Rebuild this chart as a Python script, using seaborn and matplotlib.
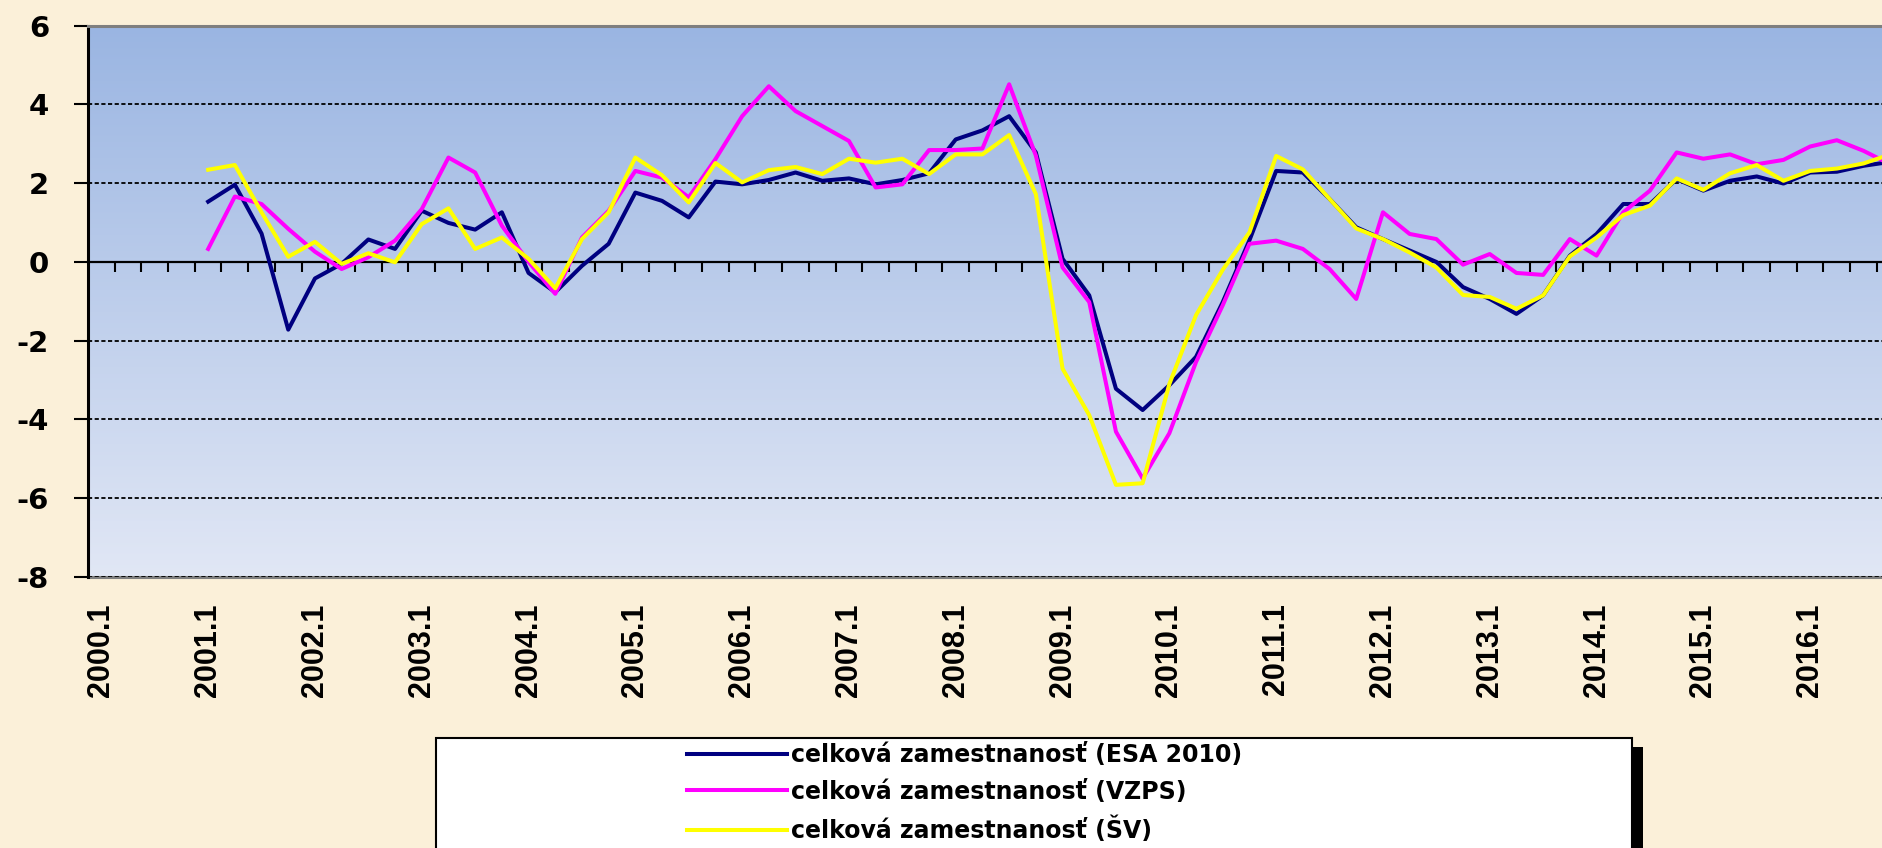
import numpy as np
import pandas as pd
import matplotlib
matplotlib.use('Agg')
import matplotlib.pyplot as plt
from matplotlib.patches import Rectangle
import seaborn as sns

# quarters 2000.1 .. 2016.4 (category axis)
years = list(range(2000, 2017))
quarters = [f'{y}.{q}' for y in years for q in range(1, 5)]
start = '2001.1'   # all three series begin here

# y/y growth of employment, %
esa2010 = [1.53, 1.96, 0.72, -1.72, -0.42, -0.05, 0.57, 0.33,
           1.30, 0.99, 0.82, 1.26, -0.28, -0.77, -0.10, 0.46,
           1.76, 1.55, 1.13, 2.04, 1.97, 2.08, 2.27, 2.06,
           2.12, 1.97, 2.08, 2.25, 3.11, 3.34, 3.70, 2.78,
           0.08, -0.85, -3.22, -3.76, -3.13, -2.41, -1.02, 0.55,
           2.31, 2.27, 1.60, 0.88, 0.58, 0.29, 0.00, -0.64,
           -0.94, -1.32, -0.85, 0.16, 0.71, 1.47, 1.47, 2.10,
           1.81, 2.06, 2.17, 1.99, 2.27, 2.29, 2.44, 2.54]
vzps = [0.33, 1.66, 1.47, 0.84, 0.26, -0.18, 0.12, 0.54,
        1.34, 2.65, 2.27, 0.92, 0.00, -0.81, 0.62, 1.30,
        2.31, 2.14, 1.64, 2.61, 3.70, 4.46, 3.83, 3.45,
        3.07, 1.89, 1.97, 2.84, 2.84, 2.88, 4.51, 2.70,
        -0.14, -1.02, -4.31, -5.50, -4.35, -2.54, -1.10, 0.46,
        0.54, 0.33, -0.18, -0.94, 1.26, 0.71, 0.58, -0.07,
        0.20, -0.28, -0.33, 0.58, 0.16, 1.26, 1.81, 2.78,
        2.62, 2.73, 2.48, 2.59, 2.93, 3.09, 2.82, 2.48]
sv = [2.34, 2.46, 1.26, 0.13, 0.51, -0.05, 0.22, -0.01,
      0.96, 1.36, 0.33, 0.62, 0.08, -0.67, 0.58, 1.26,
      2.65, 2.20, 1.51, 2.51, 2.02, 2.33, 2.41, 2.23,
      2.62, 2.52, 2.62, 2.23, 2.73, 2.73, 3.22, 1.72,
      -2.71, -3.89, -5.66, -5.62, -3.10, -1.35, -0.20, 0.75,
      2.69, 2.35, 1.60, 0.85, 0.58, 0.24, -0.14, -0.84,
      -0.89, -1.19, -0.85, 0.14, 0.62, 1.19, 1.43, 2.12,
      1.83, 2.25, 2.46, 2.06, 2.31, 2.37, 2.50, 2.73]

labels = ['celková zamestnanosť (ESA 2010)',
          'celková zamestnanosť (VZPS)',
          'celková zamestnanosť (ŠV)']
colors = ['#000080', '#FF00FF', '#FFFF00']

# long table for seaborn
i0 = quarters.index(start)
frames = []
for lab, vals in zip(labels, [esa2010, vzps, sv]):
    frames.append(pd.DataFrame({'pos': range(i0, i0 + len(vals)),
                                'value': vals, 'serie': lab}))
df = pd.concat(frames, ignore_index=True)

plt.rcParams['axes.unicode_minus'] = False
plt.rcParams['lines.scale_dashes'] = False

W, H = 1883, 848
fig = plt.figure(figsize=(W / 100, H / 100), dpi=100)
fig.patch.set_facecolor('#FBF0D9')

# plot area in pixels
left, top, bottom = 88, 25.6, 577
rect = [left / W, (H - bottom) / H, 1 - left / W, (bottom - top) / H]
cat_w = 26.7

# gradient background of the plot area
bg = fig.add_axes(rect, zorder=0)
c_top = np.array([154, 181, 226]) / 255
c_bot = np.array([225, 231, 245]) / 255
t = np.linspace(0, 1, 256)[:, None]
grad = (c_top * (1 - t) + c_bot * t)[:, None, :]
bg.imshow(grad, aspect='auto', extent=[0, 1, 0, 1])
bg.axis('off')

ax = fig.add_axes(rect, zorder=1)
ax.patch.set_alpha(0)

sns.lineplot(data=df, x='pos', y='value', hue='serie', hue_order=labels,
             palette=dict(zip(labels, colors)), linewidth=2.9, zorder=3,
             ax=ax)
handles, hlabels = ax.get_legend_handles_labels()
ax.get_legend().remove()

ax.set_xlim(-0.5, -0.5 + (W - left) / cat_w)
ax.set_ylim(-8, 6)
ax.set_xlabel('')
ax.set_ylabel('')

# y axis
ax.set_yticks(range(-8, 7, 2))
ax.tick_params(axis='y', direction='out', length=10, width=1.5,
               pad=18, colors='black')
for lab in ax.get_yticklabels():
    lab.set_fontfamily('DejaVu Sans')
    lab.set_fontweight('bold')
    lab.set_fontsize(21)
ax.set_axisbelow(True)
ax.yaxis.grid(True, color='black', linewidth=1.3, linestyle=(0, (3.0, 1.8)))
ax.xaxis.grid(False)

# category axis crossing at 0, ticks between categories
ax.spines['bottom'].set_position(('data', 0))
ax.spines['bottom'].set_color('black')
ax.spines['bottom'].set_linewidth(1.6)
ax.set_xticks(np.arange(0.5, len(quarters) - 1, 1))
ax.tick_params(axis='x', direction='out', length=7, width=1.5,
               labelbottom=False, colors='black')
ax.spines['left'].set_color('black')
ax.spines['left'].set_linewidth(2.2)
ax.spines['top'].set_color('#7F7F7F')
ax.spines['top'].set_linewidth(2.2)
ax.spines['right'].set_visible(False)

# year labels under the plot area
sec = ax.secondary_xaxis(0.0)
year_pos = [quarters.index(f'{y}.1') for y in years]
sec.set_xticks(year_pos)
sec.set_xticklabels([f'{y}.1' for y in years], rotation=90,
                    fontfamily='Liberation Sans', fontweight='bold',
                    fontsize=22, va='top', ha='center')
sec.tick_params(axis='x', length=0, pad=19)
sec.spines['bottom'].set_color('#7F7F7F')
sec.spines['bottom'].set_linewidth(2.2)

# legend box with shadow
lx0, lx1, ltop = 436, 1632, 738
fig.patches.append(Rectangle(((lx0 + 11) / W, -0.05), (lx1 - lx0) / W,
                             (H - ltop - 9) / H + 0.05,
                             transform=fig.transFigure, facecolor='black',
                             edgecolor='none', zorder=2))
fig.patches.append(Rectangle((lx0 / W, -0.05), (lx1 - lx0) / W,
                             (H - ltop) / H + 0.05,
                             transform=fig.transFigure, facecolor='white',
                             edgecolor='black', linewidth=1.5, zorder=3))
leg = fig.legend(handles, hlabels, loc='upper left',
                 bbox_to_anchor=(687 / W, (H - 743) / H), frameon=False,
                 borderpad=0, borderaxespad=0, handlelength=4.24,
                 handletextpad=0.18, labelspacing=0.54,
                 prop={'family': 'DejaVu Sans', 'weight': 'bold', 'size': 17})
leg.set_zorder(4)

fig.savefig('out.png', dpi=100, facecolor=fig.get_facecolor())
